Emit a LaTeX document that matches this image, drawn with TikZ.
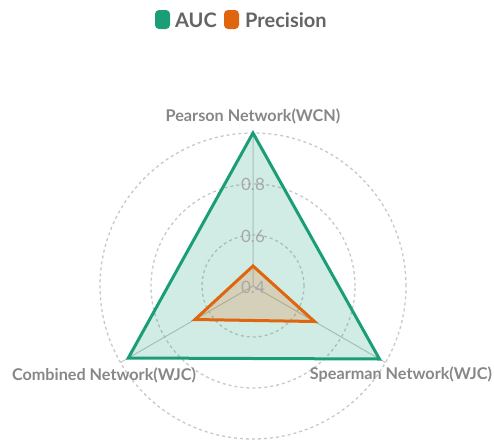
\documentclass[tikz,border=0pt]{standalone}
\usepackage{fontspec}
\setmainfont{Lato}
\definecolor{auc}{HTML}{1B9E77}
\definecolor{prec}{HTML}{E0650F}
\definecolor{lbl}{HTML}{878787}
\definecolor{tick}{HTML}{A8A8A8}
\definecolor{ringc}{HTML}{C8C8C8}
\definecolor{legtxt}{HTML}{646464}
\begin{document}
\begin{tikzpicture}[x=1pt,y=-1pt,
  ring/.style={draw=ringc,line width=1.3pt,dash pattern=on 3pt off 3pt},
  spoke/.style={draw=ringc,line width=1pt},
  axislabel/.style={font=\bfseries\fontsize{16.2}{16.2}\selectfont,text=lbl,inner sep=0pt},
  ticklabel/.style={font=\fontsize{17}{17}\selectfont,text=tick,inner sep=0pt},
  legbox/.style={rounded corners=4pt,minimum width=15pt,minimum height=19pt,inner sep=0pt},
  legtext/.style={font=\bfseries\fontsize{20}{20}\selectfont,text=legtxt,inner sep=0pt,anchor=west},
  series/.style={line width=3pt,line join=miter}]
\useasboundingbox (0,0) rectangle (494,442);

% legend
\node[legbox,fill=auc] (legA) at (162.5,19.5) {};
\node[legtext] (legAt) at (175,20) {AUC};
\node[legbox,fill=prec] (legP) at (231.5,19.5) {};
\node[legtext] (legPt) at (245,20) {Precision};

\begin{scope}[shift={(253,286)}]
  \coordinate (O) at (0,0);
  % concentric split rings
  \foreach \r in {51,102,153} \draw[ring] (O) circle[radius=\r pt];
  % axis ends
  \coordinate (ax1) at (90:153pt);
  \coordinate (ax2) at (210:153pt);
  \coordinate (ax3) at (330:153pt);
  \draw[spoke] (O) -- (ax1) (O) -- (ax2) (O) -- (ax3);

  % series points
  \coordinate (a1) at (90:153pt);
  \coordinate (a2) at (210:144pt);
  \coordinate (a3) at (330:146pt);
  \coordinate (p1) at (90:20pt);
  \coordinate (p2) at (210:67pt);
  \coordinate (p3) at (330:71pt);

  \fill[auc,fill opacity=0.2] (a1) -- (a2) -- (a3) -- cycle;
  \fill[prec,fill opacity=0.2] (p1) -- (p2) -- (p3) -- cycle;

  % radial tick labels
  \node[ticklabel] (t4) at (0,1) {0.4};
  \node[ticklabel] (t6) at (0,-50) {0.6};
  \node[ticklabel] (t8) at (0,-102) {0.8};

  \draw[series,draw=auc] (a1) -- (a2) -- (a3) -- cycle;
  \draw[series,draw=prec] (p1) -- (p2) -- (p3) -- cycle;
\end{scope}

% axis names
\node[axislabel] (n1) at (253,116) {Pearson Network(WCN)};
\node[axislabel] (n2) at (104,375) {Combined Network(WJC)};
\node[axislabel] (n3) at (401,374) {Spearman Network(WJC)};
\end{tikzpicture}
\end{document}
